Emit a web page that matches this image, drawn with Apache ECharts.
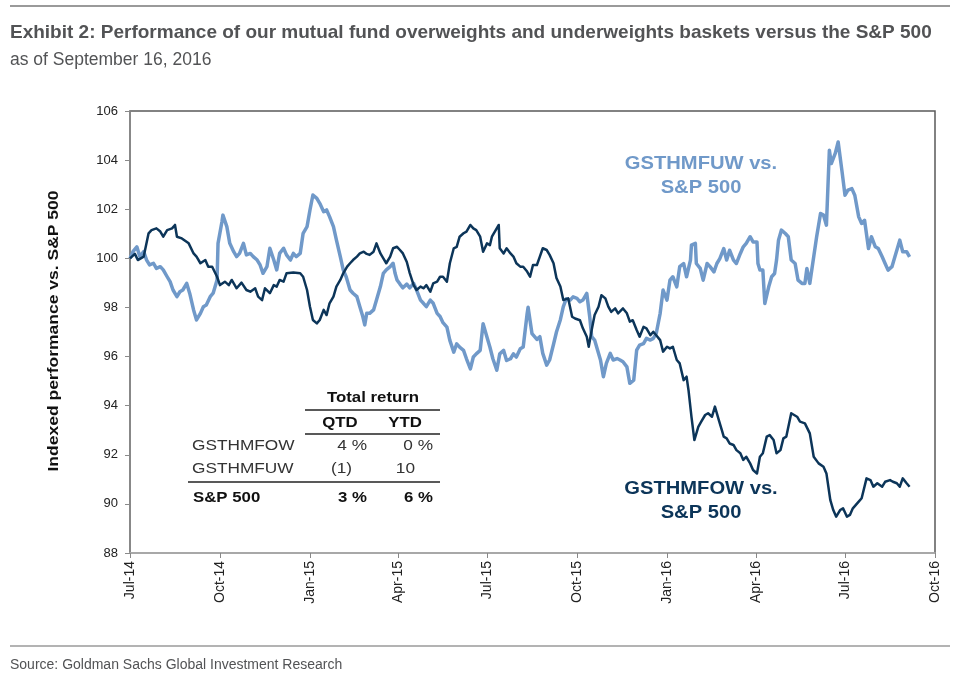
<!DOCTYPE html>
<html>
<head>
<meta charset="utf-8">
<script src="https://cdn.jsdelivr.net/npm/echarts@6/dist/echarts.min.js"></script>
<style>
html,body{margin:0;padding:0;background:#fff;}
#chart{width:960px;height:678px;}
</style>
</head>
<body>
<div id="chart"></div>
<script>
// Day offsets are counted from 2014-07-01
const tickDays = [0, 92, 184, 274, 365, 457, 549, 640, 731, 823];
const tickLabels = ['Jul-14','Oct-14','Jan-15','Apr-15','Jul-15','Oct-15','Jan-16','Apr-16','Jul-16','Oct-16'];

// GSTHMFOW vs. S&P 500 (overweights, dark)
const fowDays = [
  0,5,8,14,19,22,27,31,34,38,
  43,46,48,53,60,65,68,72,77,80,
  84,89,92,97,101,104,109,114,119,123,
  128,131,135,138,143,147,150,153,157,160,
  167,174,177,181,184,187,191,194,198,201,
  204,208,211,215,218,222,225,228,232,235,
  239,242,245,249,252,256,259,262,266,269,
  273,276,279,283,286,290,293,297,300,303,
  307,310,314,317,320,324,327,331,334,337,
  341,344,348,351,354,358,361,365,368,370,
  373,377,378,382,385,389,392,395,399,402,
  406,409,412,416,419,422,426,429,433,436,
  440,443,445,448,452,455,460,463,467,469,
  472,475,479,482,486,489,492,496,499,504,
  508,511,514,518,521,525,528,532,535,538,
  542,545,549,552,555,559,562,566,569,571,
  574,577,581,584,588,591,595,598,602,605,
  607,610,613,617,620,624,627,630,634,637,
  641,644,647,651,654,658,661,665,668,671,
  676,682,685,690,695,699,704,709,712,716,
  719,722,726,729,733,736,739,745,748,753,
  757,760,764,769,772,777,780,784,787,790,
  794,797
];
const fowValues = [
  100.00,100.18,99.93,100.07,101.02,101.15,101.22,101.09,100.88,101.15,
  101.22,101.36,100.88,100.81,100.61,100.20,100.07,99.80,99.93,99.66,
  99.66,99.25,98.91,99.05,98.91,99.12,98.78,99.01,98.71,98.64,
  98.78,98.44,98.30,98.78,98.58,98.91,98.85,99.12,99.05,99.39,
  99.42,99.39,99.25,98.71,98.03,97.49,97.35,97.49,97.90,97.69,
  98.17,98.44,98.85,99.12,99.39,99.66,99.80,99.93,100.07,100.20,
  100.27,100.18,100.14,100.27,100.61,100.20,100.00,99.80,100.07,100.41,
  100.47,100.34,100.20,99.85,99.40,98.91,98.71,98.85,98.78,98.91,
  98.64,98.98,99.05,99.25,99.25,99.05,99.80,100.41,100.47,100.88,
  101.02,101.09,101.36,101.22,101.15,100.88,100.27,100.61,100.54,100.88,
  101.09,101.36,100.41,100.20,100.41,100.20,100.07,99.80,99.66,99.66,
  99.46,99.25,99.73,99.73,100.07,100.41,100.34,100.14,99.80,99.20,
  98.85,98.30,98.23,98.37,97.62,97.55,97.48,97.15,96.81,96.40,
  97.08,97.69,98.03,98.50,98.37,98.03,97.82,97.96,97.76,97.96,
  97.76,97.42,97.48,97.08,96.81,97.21,97.15,96.87,97.01,96.87,
  96.67,96.20,96.40,96.33,96.40,95.86,95.72,95.04,95.18,94.63,
  93.55,92.60,93.14,93.35,93.62,93.69,93.55,93.96,93.41,93.01,
  92.74,92.67,92.46,92.40,92.19,92.06,91.79,91.92,91.65,91.38,
  91.24,91.92,92.06,92.74,92.80,92.60,92.06,92.19,92.67,92.74,
  93.69,93.55,93.35,93.28,92.87,91.92,91.65,91.51,91.24,90.15,
  89.75,89.48,89.75,89.82,89.48,89.55,89.82,90.09,90.23,91.04,
  90.97,90.70,90.84,90.70,90.90,90.97,90.90,90.84,90.70,91.04,
  90.84,90.70
];

// GSTHMFUW vs. S&P 500 (underweights, light)
const fuwDays = [
  0,3,7,10,14,17,20,24,27,31,
  34,38,41,44,48,51,54,58,61,65,
  68,72,75,78,82,85,89,90,94,95,
  99,102,106,109,112,116,119,123,126,130,
  133,136,140,143,147,150,153,157,160,164,
  167,170,174,177,181,184,187,191,194,198,
  201,204,208,211,215,218,221,225,228,232,
  235,238,240,242,245,249,252,256,259,262,
  266,269,271,273,276,279,283,286,290,293,
  297,300,303,307,310,314,317,320,324,327,
  331,334,337,341,344,348,351,354,358,361,
  365,368,371,375,378,382,385,389,392,395,
  399,402,406,407,411,416,419,422,426,429,
  433,436,440,443,446,450,453,457,460,463,
  467,470,472,475,481,484,487,491,494,498,
  501,504,508,511,515,518,521,525,528,532,
  535,538,542,545,549,552,555,559,562,566,
  569,573,574,578,579,583,586,590,593,597,
  600,603,607,610,613,617,620,624,627,630,
  634,637,641,642,644,647,649,653,656,659,
  661,663,666,670,673,676,680,683,687,690,
  692,695,699,702,706,709,712,715,717,721,
  724,728,731,734,738,741,745,748,751,755,
  758,762,765,769,772,775,779,782,787,790,
  794,797
];
const fuwValues = [
  100.00,100.27,100.47,100.07,100.27,99.93,99.73,99.80,99.59,99.66,
  99.53,99.25,99.05,98.71,98.44,98.64,98.71,98.98,98.58,97.90,
  97.49,97.76,98.03,98.10,98.44,98.58,99.12,100.61,101.49,101.76,
  101.29,100.61,100.27,100.07,100.20,100.61,100.14,100.20,100.07,99.93,
  99.73,99.39,99.66,100.41,99.93,99.53,100.20,100.41,100.14,99.93,
  100.20,100.07,100.20,101.02,101.29,101.97,102.58,102.44,102.24,101.90,
  101.97,101.70,101.29,100.75,100.07,99.53,99.25,98.71,98.58,98.44,
  98.03,97.63,97.29,97.76,97.76,97.90,98.30,98.85,99.39,99.53,
  99.66,99.80,99.39,99.12,98.95,98.80,98.95,98.80,98.98,98.71,
  98.30,98.17,98.03,98.30,98.17,97.76,97.63,97.38,97.20,96.66,
  96.18,96.52,96.38,96.25,95.91,95.50,95.98,96.11,96.25,97.34,
  96.79,96.38,95.91,95.44,96.11,96.25,95.84,95.91,96.11,95.98,
  96.32,96.39,97.74,98.01,96.93,96.70,96.81,96.13,95.65,95.86,
  96.50,97.00,97.50,98.03,98.35,98.30,98.43,98.37,98.23,98.30,
  98.57,97.62,96.81,96.67,95.86,95.18,95.72,96.13,95.86,95.92,
  95.86,95.79,95.58,94.91,95.04,96.26,96.47,96.53,96.74,96.67,
  96.74,96.94,97.76,98.71,98.30,99.11,99.25,98.84,99.66,99.79,
  99.25,99.93,100.54,100.61,99.79,99.59,99.11,99.79,99.66,99.45,
  99.79,99.99,100.40,99.93,100.33,99.93,99.79,100.20,100.47,100.61,
  100.88,100.67,100.67,99.79,99.52,99.52,98.16,98.84,99.25,99.38,
  99.93,100.74,101.15,101.01,100.88,99.93,99.79,99.11,98.98,98.98,
  99.59,98.98,100.06,100.88,101.83,101.76,101.35,104.40,103.86,104.27,
  104.74,103.52,102.57,102.78,102.84,102.57,101.69,101.42,101.55,100.40,
  100.88,100.47,100.40,100.06,99.79,99.52,99.66,100.06,100.74,100.27,
  100.27,100.06
];

// Inset table
const tableHeader = 'Total return';
const tableCols = ['QTD', 'YTD'];
const tableRows = ['GSTHMFOW', 'GSTHMFUW', 'S&P 500'];
const tableQTD = ['4 %', '(1)', '3 %'];
const tableYTD = ['0 %', '10', '6 %'];

const titleText = 'Exhibit 2: Performance of our mutual fund overweights and underweights baskets versus the S&P 500';
const subtitleText = 'as of September 16, 2016';
const sourceText = 'Source: Goldman Sachs Global Investment Research';
const yAxisTitle = 'Indexed performance vs. S&P 500';

const DARK = '#0c3559';
const LIGHT = '#7099c9';
const AR = '"Liberation Sans", Arial, sans-serif';

function txt(x, y, text, font, fill, align, sx, rot) {
  return {
    type: 'text', x: x, y: y, scaleX: sx || 1, rotation: rot || 0, z: 100,
    style: { text: text, font: font, fill: fill, align: align || 'left', textAlign: align || 'left',
             verticalAlign: 'middle', textVerticalAlign: 'middle' }
  };
}
function hline(x1, x2, y, color, w) {
  return { type: 'line', z: 100, shape: { x1: x1, y1: y, x2: x2, y2: y }, style: { stroke: color, lineWidth: w } };
}

const chart = echarts.init(document.getElementById('chart'), null, { renderer: 'canvas' });

const graphics = [
  hline(10, 950, 6, '#9a9a9a', 2),
  txt(10, 33, titleText, 'bold 19px ' + AR, '#525355'),
  txt(10, 60, subtitleText, '17.5px ' + AR, '#525355'),
  hline(10, 950, 646, '#9a9a9a', 1.5),
  txt(10, 665, sourceText, '14px ' + AR, '#525355'),
  // y axis title
  txt(54, 331, yAxisTitle, 'bold 14px ' + AR, '#111', 'center', 1.25, Math.PI / 2),
  // line labels
  txt(701, 164, 'GSTHMFUW vs.', 'bold 18px ' + AR, LIGHT, 'center', 1.12),
  txt(701, 188, 'S&P 500', 'bold 18px ' + AR, LIGHT, 'center', 1.12),
  txt(701, 489, 'GSTHMFOW vs.', 'bold 18px ' + AR, DARK, 'center', 1.12),
  txt(701, 513, 'S&P 500', 'bold 18px ' + AR, DARK, 'center', 1.12),
  // table
  txt(373, 398, tableHeader, 'bold 15px ' + AR, '#111', 'center', 1.12),
  hline(305, 440, 410, '#222', 1.5),
  txt(340, 423, tableCols[0], 'bold 15px ' + AR, '#111', 'center', 1.12),
  txt(405, 423, tableCols[1], 'bold 15px ' + AR, '#111', 'center', 1.12),
  hline(305, 440, 434, '#222', 1.5),
  txt(192, 446, tableRows[0], '15px ' + AR, '#333', 'left', 1.15),
  txt(367, 446, tableQTD[0], '15px ' + AR, '#333', 'right', 1.15),
  txt(433, 446, tableYTD[0], '15px ' + AR, '#333', 'right', 1.15),
  txt(192, 469, tableRows[1], '15px ' + AR, '#333', 'left', 1.15),
  txt(352, 469, tableQTD[1], '15px ' + AR, '#333', 'right', 1.15),
  txt(415, 469, tableYTD[1], '15px ' + AR, '#333', 'right', 1.15),
  hline(188, 440, 482, '#222', 1.5),
  txt(193, 498, tableRows[2], 'bold 15px ' + AR, '#111', 'left', 1.12),
  txt(367, 498, tableQTD[2], 'bold 15px ' + AR, '#111', 'right', 1.12),
  txt(433, 498, tableYTD[2], 'bold 15px ' + AR, '#111', 'right', 1.12)
];

const option = {
  backgroundColor: '#fff',
  animation: false,
  grid: { left: 130, right: 25, top: 111, bottom: 125, show: true, borderColor: '#5a5a5a', borderWidth: 1.5, backgroundColor: 'transparent' },
  xAxis: {
    type: 'value', min: 0, max: 823,
    axisLine: { show: true, onZero: false, lineStyle: { color: '#b5b5b5', width: 1.5 } },
    axisTick: { show: true, length: 5, customValues: tickDays, lineStyle: { color: '#888' } },
    axisLabel: {
      customValues: tickDays, rotate: 90, margin: 8,
      color: '#222', fontFamily: AR, fontSize: 14,
      formatter: function (v) { const i = tickDays.indexOf(v); return i >= 0 ? tickLabels[i] : ''; }
    },
    splitLine: { show: false }
  },
  yAxis: {
    type: 'value', min: 88, max: 106, interval: 2,
    axisLine: { show: true, lineStyle: { color: '#8a8a8a', width: 1.5 } },
    axisTick: { show: true, length: 5, lineStyle: { color: '#8a8a8a' } },
    axisLabel: { color: '#222', fontFamily: AR, fontSize: 13, margin: 12 },
    splitLine: { show: false }
  },
  series: [
    {
      name: 'GSTHMFUW vs. S&P 500', type: 'line', showSymbol: false, symbol: 'none',
      data: fuwDays.map((d, i) => [d, fuwValues[i]]),
      lineStyle: { color: LIGHT, width: 3.5, join: 'round' }, z: 3
    },
    {
      name: 'GSTHMFOW vs. S&P 500', type: 'line', showSymbol: false, symbol: 'none',
      data: fowDays.map((d, i) => [d, fowValues[i]]),
      lineStyle: { color: DARK, width: 2.5, join: 'round' }, z: 4
    }
  ],
  graphic: graphics
};
chart.setOption(option);
</script>
</body>
</html>
